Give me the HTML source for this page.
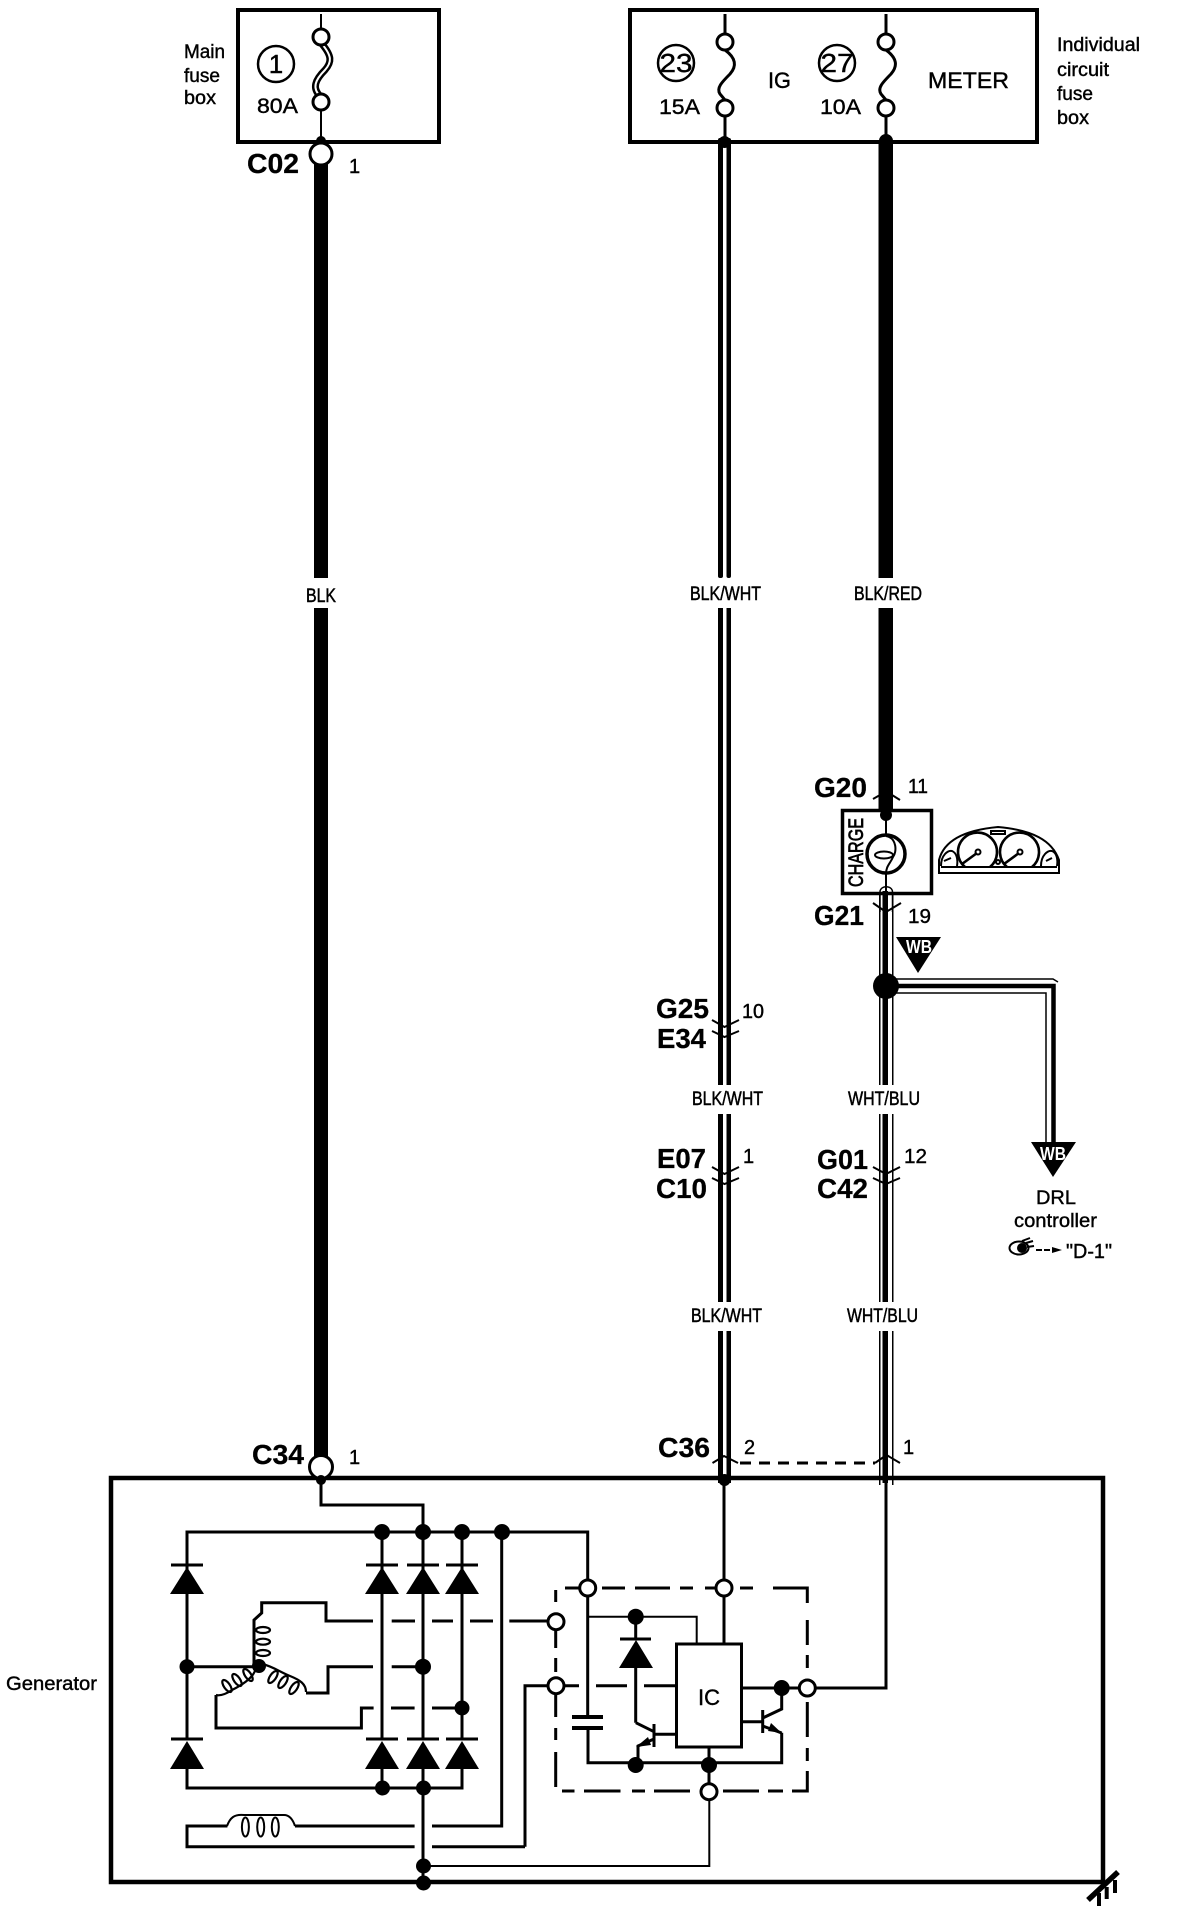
<!DOCTYPE html>
<html><head><meta charset="utf-8"><title>Charging system wiring diagram</title>
<style>
html,body{margin:0;padding:0;background:#fff}
svg{display:block}
text{font-family:"Liberation Sans",sans-serif;fill:#000;stroke:#000;stroke-width:.4px}
.b{font-weight:bold;font-size:28px;stroke-width:.3px}
.n{font-size:20px}
.l{font-size:19px}
.w{font-size:19px;stroke-width:.5px}
.k{fill:none;stroke:#000;stroke-width:3}
.t{fill:none;stroke:#000;stroke-width:2}
.o{fill:#fff;stroke:#000;stroke-width:3}
.d{fill:#000}
</style></head><body>
<svg width="1184" height="1908" viewBox="0 0 1184 1908" xmlns="http://www.w3.org/2000/svg">
<rect width="1184" height="1908" fill="#fff"/>

<!-- fuse boxes -->
<rect x="238" y="10" width="201" height="132" fill="none" stroke="#000" stroke-width="4"/>
<rect x="630" y="10" width="407" height="132" fill="none" stroke="#000" stroke-width="4"/>

<!-- main fuse -->
<path class="t" d="M321 14V30M321 110V140"/>
<path d="M322 44C332 56 332 62 325 70C315 80 312 88 320 96" fill="none" stroke="#000" stroke-width="7"/>
<path d="M322 44C332 56 332 62 325 70C315 80 312 88 320 96" fill="none" stroke="#fff" stroke-width="2"/>
<circle class="o" cx="321" cy="37" r="8"/><circle class="o" cx="321" cy="102" r="8"/>
<circle cx="321" cy="141" r="5" class="d"/>
<rect x="314" y="160" width="14" height="418" class="d"/>
<rect x="314" y="608" width="14" height="860" class="d"/>
<circle class="o" cx="321" cy="154" r="11"/>
<circle class="o" style="stroke-width:2.5" cx="276" cy="64" r="18"/>
<text x="276" y="73" font-size="26" text-anchor="middle">1</text>
<text x="257" y="113" font-size="21" textLength="41" lengthAdjust="spacingAndGlyphs">80A</text>
<text class="l" x="184" y="58" textLength="41" lengthAdjust="spacingAndGlyphs">Main</text>
<text class="l" x="184" y="82" textLength="36" lengthAdjust="spacingAndGlyphs">fuse</text>
<text class="l" x="184" y="104" textLength="32" lengthAdjust="spacingAndGlyphs">box</text>
<text class="b" x="247" y="173" textLength="52" lengthAdjust="spacingAndGlyphs">C02</text>
<text class="n" x="349" y="173">1</text>

<!-- IG and METER fuses -->
<path class="k" d="M725 14V34M725 116V140M886 14V34M886 116V140"/>
<path class="k" d="M725 50C736 58 737 66 730 74C722 82 716 88 720 94L725 100"/>
<path class="k" d="M886 50C897 58 898 66 891 74C883 82 877 88 881 94L886 100"/>
<circle class="o" cx="725" cy="42" r="8"/><circle class="o" cx="725" cy="108" r="8"/>
<circle class="o" cx="886" cy="42" r="8"/><circle class="o" cx="886" cy="108" r="8"/>
<circle class="o" style="stroke-width:2.5" cx="676" cy="63" r="18"/>
<circle class="o" style="stroke-width:2.5" cx="837" cy="63" r="18"/>
<text x="676" y="72" font-size="26" text-anchor="middle" textLength="33" lengthAdjust="spacingAndGlyphs">23</text>
<text x="837" y="72" font-size="26" text-anchor="middle" textLength="33" lengthAdjust="spacingAndGlyphs">27</text>
<text x="659" y="114" font-size="21" textLength="41" lengthAdjust="spacingAndGlyphs">15A</text>
<text x="820" y="114" font-size="21" textLength="41" lengthAdjust="spacingAndGlyphs">10A</text>
<text x="768" y="88" font-size="22" textLength="23" lengthAdjust="spacingAndGlyphs">IG</text>
<text x="928" y="88" font-size="22" textLength="81" lengthAdjust="spacingAndGlyphs">METER</text>
<text class="l" x="1057" y="51" textLength="83" lengthAdjust="spacingAndGlyphs">Individual</text>
<text class="l" x="1057" y="76" textLength="52" lengthAdjust="spacingAndGlyphs">circuit</text>
<text class="l" x="1057" y="100" textLength="36" lengthAdjust="spacingAndGlyphs">fuse</text>
<text class="l" x="1057" y="124" textLength="32" lengthAdjust="spacingAndGlyphs">box</text>

<!-- IG wire (double) -->
<g class="d">
<rect x="718" y="138" width="5" height="440" rx="2"/><rect x="726.5" y="138" width="4.5" height="440" rx="2"/>
<rect x="718" y="608" width="5" height="477"/><rect x="726.5" y="608" width="4.5" height="477"/>
<rect x="718" y="1114" width="5" height="188"/><rect x="726.5" y="1114" width="4.5" height="188"/>
<rect x="718" y="1331" width="5" height="152"/><rect x="726.5" y="1331" width="4.5" height="152"/>
<circle cx="724.5" cy="1480" r="6"/>
<circle cx="724.5" cy="142" r="6"/>
<!-- METER wire -->
<rect x="878.5" y="140" width="14.5" height="438"/>
<rect x="878.5" y="608" width="14.5" height="205"/>
<circle cx="886" cy="141" r="7"/>
<circle cx="886" cy="813" r="7"/>
</g>

<!-- wire labels -->
<text class="w" x="306" y="602" textLength="30" lengthAdjust="spacingAndGlyphs">BLK</text>
<text class="w" x="690" y="600" textLength="71" lengthAdjust="spacingAndGlyphs">BLK/WHT</text>
<text class="w" x="854" y="600" textLength="68" lengthAdjust="spacingAndGlyphs">BLK/RED</text>
<text class="w" x="692" y="1105" textLength="71" lengthAdjust="spacingAndGlyphs">BLK/WHT</text>
<text class="w" x="848" y="1105" textLength="72" lengthAdjust="spacingAndGlyphs">WHT/BLU</text>
<text class="w" x="691" y="1322" textLength="71" lengthAdjust="spacingAndGlyphs">BLK/WHT</text>
<text class="w" x="847" y="1322" textLength="71" lengthAdjust="spacingAndGlyphs">WHT/BLU</text>

<!-- meter / charge lamp -->
<rect x="842.5" y="810.5" width="89" height="83" fill="#fff" stroke="#000" stroke-width="3.5"/>
<circle cx="886" cy="815" r="6" class="d"/>
<path class="t" d="M886 815V834M886 874V892"/>
<circle cx="886" cy="854" r="19" fill="none" stroke="#000" stroke-width="3.5"/>
<ellipse cx="884" cy="855" rx="9" ry="3.5" class="t"/>
<path class="t" d="M886 836C897 838 897 852 893 857C890 864 886 866 886 874"/>
<text transform="translate(863 887) rotate(-90)" font-size="21" textLength="69" lengthAdjust="spacingAndGlyphs" style="stroke-width:.7px">CHARGE</text>
<path d="M880 912V892C880 885 892.5 885 892.5 892V912" fill="none" stroke="#000" stroke-width="1.5"/>
<path class="t" d="M873 799L880 795M892 795L900 800"/>
<path class="t" d="M873 903L886 912L901 903"/>
<text class="b" x="814" y="797" textLength="53" lengthAdjust="spacingAndGlyphs">G20</text>
<text class="n" x="908" y="793" textLength="20" lengthAdjust="spacingAndGlyphs">11</text>
<text class="b" x="814" y="925" textLength="50" lengthAdjust="spacingAndGlyphs">G21</text>
<text class="n" x="908" y="923" textLength="23" lengthAdjust="spacingAndGlyphs">19</text>

<!-- cluster -->
<g fill="none" stroke="#000" stroke-width="2">
<path d="M939 873V860C944 840 965 830 998 827C1032 830 1052 840 1059 860V873Z"/>
<path d="M941 867H1057"/>
<path d="M965 867A19.5 19.5 0 1 1 990 867" stroke-width="2.6"/>
<path d="M1007 867A19.5 19.5 0 1 1 1032 867" stroke-width="2.6"/>
<path d="M941 866C941 855 948 850 952 851C957 853 958 860 957 866"/>
<path d="M1041 866C1041 855 1048 850 1052 851C1057 853 1058 860 1057 866"/>
<rect x="991" y="831" width="14" height="3"/>
<path d="M962 864L977 853M1004 864L1019 853" stroke-width="2.6"/>
<circle cx="978" cy="852" r="2.5"/><circle cx="1020" cy="852" r="2.5"/>
<circle cx="998" cy="862" r="2"/>
<path d="M944 861L951 858M1046 861L1052 858"/>
</g>

<!-- white/blue wire -->
<g class="d">
<rect x="882.5" y="891" width="5.5" height="194"/>
<rect x="882.5" y="1114" width="5.5" height="188"/>
<rect x="882.5" y="1331" width="5.5" height="152"/>
<rect x="879" y="892" width="1.5" height="193"/><rect x="892" y="892" width="1.5" height="193"/>
<rect x="879" y="1114" width="1.5" height="188"/><rect x="892" y="1114" width="1.5" height="188"/>
<rect x="879" y="1331" width="1.5" height="154"/><rect x="892" y="1331" width="1.5" height="154"/>
</g>
<!-- junction & branch -->
<circle cx="886" cy="986" r="13" class="d"/>
<path d="M890 979H1053L1058 982" fill="none" stroke="#000" stroke-width="1.5"/>
<path d="M890 986H1053.5V1145" fill="none" stroke="#000" stroke-width="4.5"/>
<path d="M894 993H1046V1145" fill="none" stroke="#000" stroke-width="1.5"/>
<!-- WB tags -->
<path d="M896 937H941L918 973Z" class="d"/>
<text x="906" y="953" font-size="18" font-weight="bold" style="fill:#fff;stroke:none" textLength="26" lengthAdjust="spacingAndGlyphs">WB</text>
<path d="M1031 1142H1076L1053 1177Z" class="d"/>
<text x="1040" y="1160" font-size="18" font-weight="bold" style="fill:#fff;stroke:none" textLength="26" lengthAdjust="spacingAndGlyphs">WB</text>
<text class="l" x="1036" y="1204" textLength="40" lengthAdjust="spacingAndGlyphs">DRL</text>
<text class="l" x="1014" y="1227" textLength="83" lengthAdjust="spacingAndGlyphs">controller</text>
<ellipse cx="1019" cy="1248" rx="9.5" ry="6.5" fill="none" stroke="#000" stroke-width="2"/>
<circle cx="1022" cy="1248" r="5" class="d"/>
<path d="M1022 1241L1030 1238M1026 1243L1033 1241M1027 1247L1034 1246" class="t"/>
<path d="M1036 1250H1042M1044 1250H1050" class="t"/>
<path d="M1052 1247L1062 1250L1052 1253Z" class="d"/>
<text x="1066" y="1258" font-size="20" textLength="46" lengthAdjust="spacingAndGlyphs">"D-1"</text>

<!-- mid connectors -->
<g class="t">
<path d="M712 1020L724.5 1027L739 1020M712 1031L724.5 1037L739 1031"/>
<path d="M712 1167L724.5 1174L739 1167M712 1178L724.5 1184L739 1178"/>
<path d="M873 1167L886 1174L900 1167M873 1178L886 1184L900 1178"/>
</g>
<text class="b" x="656" y="1018" textLength="53" lengthAdjust="spacingAndGlyphs">G25</text>
<text class="b" x="657" y="1048" textLength="49" lengthAdjust="spacingAndGlyphs">E34</text>
<text class="n" x="742" y="1018" textLength="22" lengthAdjust="spacingAndGlyphs">10</text>
<text class="b" x="657" y="1168" textLength="49" lengthAdjust="spacingAndGlyphs">E07</text>
<text class="b" x="656" y="1198" textLength="51" lengthAdjust="spacingAndGlyphs">C10</text>
<text class="n" x="743" y="1163">1</text>
<text class="b" x="817" y="1169" textLength="51" lengthAdjust="spacingAndGlyphs">G01</text>
<text class="b" x="817" y="1198" textLength="51" lengthAdjust="spacingAndGlyphs">C42</text>
<text class="n" x="904" y="1163" textLength="23" lengthAdjust="spacingAndGlyphs">12</text>

<!-- C34/C36 -->
<text class="b" x="252" y="1464" textLength="52" lengthAdjust="spacingAndGlyphs">C34</text>
<text class="n" x="349" y="1464">1</text>
<text class="b" x="658" y="1457" textLength="52" lengthAdjust="spacingAndGlyphs">C36</text>
<text class="n" x="744" y="1454">2</text>
<text class="n" x="903" y="1454">1</text>
<path class="t" d="M712.5 1463L724 1456L738 1463M875 1463L886.5 1455L900 1463"/>
<path d="M740 1463H875" fill="none" stroke="#000" stroke-width="3" stroke-dasharray="11 8"/>

<!-- Generator box -->
<rect x="111" y="1478" width="992" height="404" fill="none" stroke="#000" stroke-width="4.5"/>
<text class="l" x="6" y="1690" textLength="91" lengthAdjust="spacingAndGlyphs">Generator</text>
<circle class="o" cx="321" cy="1467" r="11.5"/>
<circle cx="321" cy="1480" r="5" class="d"/>
<path class="k" d="M321 1478V1505H423V1531"/>
<!-- bus -->
<path class="k" d="M187 1594V1532H587.7V1717"/>
<path class="k" d="M187 1532V1740M382 1532V1740M423 1532V1740M462 1532V1740"/>
<path class="k" d="M501.7 1532V1826H432"/>
<path class="k" d="M525 1846.7V1685.7H548"/>
<path class="k" d="M432 1846.7H525"/>
<path class="k" d="M187 1769V1788H462V1769M382 1769V1788M423 1769V1883"/>
<!-- dots -->
<g class="d">
<circle cx="382" cy="1532" r="8"/><circle cx="423" cy="1532" r="8"/><circle cx="462" cy="1532" r="8"/><circle cx="502" cy="1532" r="8"/>
<circle cx="187" cy="1666.7" r="7.5"/><circle cx="423" cy="1666.7" r="8"/><circle cx="462" cy="1708" r="7.5"/>
<circle cx="382.5" cy="1788" r="7.5"/><circle cx="423.5" cy="1788" r="7.5"/>
<circle cx="423.5" cy="1866" r="7.5"/><circle cx="423.5" cy="1883" r="7.5"/>
<circle cx="635.7" cy="1616.7" r="8"/><circle cx="781.7" cy="1688" r="8"/>
<circle cx="635.7" cy="1765" r="8"/><circle cx="709" cy="1765" r="8"/>
<!-- upper diodes -->
<path d="M170 1594L187 1567L204 1594Z"/><rect x="171" y="1563.5" width="32" height="3"/>
<path d="M365 1594L382 1567L399 1594Z"/><rect x="366" y="1563.5" width="32" height="3"/>
<path d="M406 1594L423 1567L440 1594Z"/><rect x="407" y="1563.5" width="32" height="3"/>
<path d="M445 1594L462 1567L479 1594Z"/><rect x="446" y="1563.5" width="32" height="3"/>
<!-- lower diodes -->
<path d="M170 1769L187 1741L204 1769Z"/><rect x="171" y="1737.5" width="32" height="3"/>
<path d="M365 1769L382 1741L399 1769Z"/><rect x="366" y="1737.5" width="32" height="3"/>
<path d="M406 1769L423 1741L440 1769Z"/><rect x="407" y="1737.5" width="32" height="3"/>
<path d="M445 1769L462 1741L479 1769Z"/><rect x="446" y="1737.5" width="32" height="3"/>
<!-- internal diode -->
<path d="M619 1668L636 1640L653 1668Z"/><rect x="620" y="1637.5" width="31" height="3"/>
</g>

<!-- stator windings -->
<circle cx="259" cy="1666" r="7" class="d"/>
<path class="k" d="M187 1666.7H259"/>
<path class="k" d="M254 1665V1620L261.7 1613V1602.7H326V1621H373M391.7 1621H415M432 1621H453M470 1621H493M509.3 1621H548"/>
<g fill="none" stroke="#000" stroke-width="2.2">
<ellipse cx="263" cy="1630" rx="7" ry="3"/><ellipse cx="263" cy="1641.7" rx="7" ry="3"/><ellipse cx="263" cy="1653" rx="7" ry="3"/>
<ellipse cx="273" cy="1677" rx="3" ry="7" transform="rotate(35 273 1677)"/>
<ellipse cx="283" cy="1682" rx="3" ry="7" transform="rotate(35 283 1682)"/>
<ellipse cx="294" cy="1688" rx="3" ry="7" transform="rotate(35 294 1688)"/>
<ellipse cx="227" cy="1686" rx="3" ry="7" transform="rotate(-35 227 1686)"/>
<ellipse cx="237" cy="1680" rx="3" ry="7" transform="rotate(-35 237 1680)"/>
<ellipse cx="248" cy="1675" rx="3" ry="7" transform="rotate(-35 248 1675)"/>
<path d="M262 1664C272 1666 280 1672 290 1676C300 1680 306 1684 306 1692"/>
<path d="M256 1668C254 1678 240 1686 232 1690C226 1694 220 1696 216 1695"/>
</g>
<path class="k" d="M306 1693H328V1666.7H373M391.7 1666.7H423"/>
<path class="k" d="M216 1695V1728H361.4V1708H373.6M391 1708H414.6M432 1708H462"/>

<!-- field coil -->
<path class="k" d="M414.6 1826H295M227.4 1826H187V1846.7H414.6"/>
<path class="t" d="M227 1826C230 1818 234 1814 244 1815H284C290 1815 293 1820 295 1826"/>
<g fill="none" stroke="#000" stroke-width="2">
<ellipse cx="245.4" cy="1827" rx="3.5" ry="9.5"/><ellipse cx="260.7" cy="1827" rx="3.5" ry="9.5"/><ellipse cx="275.3" cy="1827" rx="3.5" ry="9.5"/>
</g>
<path class="t" d="M423.5 1866H709.3V1800"/>

<!-- regulator dashed box -->
<path d="M565 1588H579M602 1588H625M635 1588H670M680 1588H693M705 1588H717M740 1588H753M773 1588H807.3V1603M807.3 1620V1645M807.3 1655V1668M807.3 1702V1737M807.3 1748V1761M807.3 1771V1791H792M783 1791H768M759 1791H723M690 1791H654M645 1791H632M620.5 1791H584M574.5 1791H562M555.7 1787V1752M555.7 1740V1728M555.7 1717V1693M555.7 1672V1658M555.7 1648V1630M555.7 1602V1590" fill="none" stroke="#000" stroke-width="3"/>

<!-- regulator -->
<path class="k" d="M724 1478V1643"/>
<path class="k" d="M886 1478V1688H741"/>
<path d="M587.7 1616.7H696.7V1643" fill="none" stroke="#000" stroke-width="2"/>
<path class="k" d="M635.7 1616.7V1640M635.7 1668V1722.7"/>
<rect x="676.5" y="1644" width="65" height="103" fill="none" stroke="#000" stroke-width="3"/>
<text x="698" y="1705" font-size="22" textLength="22" lengthAdjust="spacingAndGlyphs">IC</text>
<path class="k" d="M565 1685.7H579M596 1685.7H627M644 1685.7H676"/>
<path class="k" style="stroke-width:4" d="M572 1717H603M572 1728H603"/>
<path class="k" d="M588 1728V1762.7H781.7V1732.7M709 1747V1783"/>
<!-- left transistor -->
<path class="k" d="M635.8 1722.7L654 1731.7M654 1724V1747M654 1734.3H675M654 1739L638 1746V1762"/>
<path d="M636 1747L648 1737L651 1745Z" class="d"/>
<!-- right transistor -->
<path class="k" d="M762.7 1710V1733M741.7 1721.7H762.7M762.7 1718L781.7 1709V1688M762.7 1726L781.7 1733"/>
<path d="M781.7 1733L768 1731L771 1723Z" class="d"/>

<!-- open terminals -->
<circle class="o" cx="587.7" cy="1588" r="8"/><circle class="o" cx="724" cy="1588" r="8"/>
<circle class="o" cx="556" cy="1621.7" r="8"/><circle class="o" cx="556" cy="1685.7" r="8"/>
<circle class="o" cx="807.3" cy="1688" r="8"/><circle class="o" cx="709" cy="1791.7" r="8"/>

<!-- ground -->
<path d="M1088 1900L1118 1872" stroke="#000" stroke-width="5.5" fill="none"/>
<path class="k" style="stroke-width:4" d="M1099 1893V1906M1106.7 1887V1899M1115 1880V1893"/>
</svg>
</body></html>
